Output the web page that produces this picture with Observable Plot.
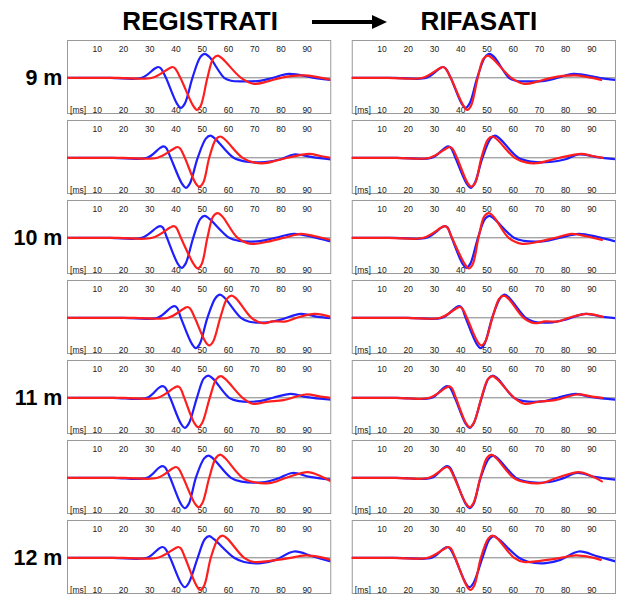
<!DOCTYPE html>
<html>
<head>
<meta charset="utf-8">
<script src="https://cdn.jsdelivr.net/npm/d3@7"></script>
<script src="https://cdn.jsdelivr.net/npm/@observablehq/plot@0.6"></script>
<style>
  html, body { margin: 0; padding: 0; background: #fff; }
  #wrap { position: relative; width: 617px; height: 594px; font-family: "Liberation Sans", Arial, sans-serif; }
  #arrow-shaft { position: absolute; left: 312px; top: 20px; width: 62px; height: 4px; background: #000; }
  #arrow-head { position: absolute; left: 372px; top: 15px; width: 0; height: 0;
    border-left: 15px solid #000; border-top: 7px solid transparent; border-bottom: 7px solid transparent; }
</style>
</head>
<body>
<div id="wrap">
  <div id="chart"></div>
  <div id="arrow-shaft"></div>
  <div id="arrow-head"></div>
</div>
<script>
// ---- data (time in ms, amplitude normalised) ----
const columns = ["REGISTRATI", "RIFASATI"];
const rowLabels = ["9 m", "", "10 m", "", "11 m", "", "12 m"];
const tickValues = [10, 20, 30, 40, 50, 60, 70, 80, 90];
// lag (ms) removed from the red trace in the "RIFASATI" column
const shiftRifasati = [5.5, 4.8, 5.2, 4.8, 5.0, 5.2, 5.6];

const blue0 = [[-1.3,0],[15,0],[27,0],[32,0.31],[33.3,0.36],[34.3,0.31],[36.2,0],[40.4,-0.86],[41.9,-1.0],[43.4,-0.86],[46.3,0],[49.3,0.69],[51,0.8],[52.8,0.69],[58.4,0],[61,-0.1],[66,-0.12],[72,-0.1],[77,0],[83,0.13],[92.7,0],[99,-0.07]];
const red0  = [[-1.3,0],[18,0],[31,0],[37.4,0.31],[38.7,0.36],[39.7,0.31],[41.7,0],[46.5,-0.92],[48,-1.07],[49.5,-0.92],[52,0],[54.2,0.64],[55.9,0.74],[57.7,0.64],[64.8,0],[69.8,-0.2],[75,-0.12],[80,0],[88.9,0.08],[94,0.02],[99,-0.07]];
const blue1 = [[-1.3,0],[16,0],[29,0],[34,0.33],[35.3,0.38],[36.3,0.33],[38,0],[42.3,-0.86],[43.8,-1.0],[45.3,-0.86],[48.3,0],[51.4,0.64],[53.1,0.74],[54.9,0.64],[62,0],[67,-0.13],[74,-0.14],[80,-0.05],[85,0.11],[92,0.02],[99,-0.05]];
const red1  = [[-1.3,0],[20,0],[33,0],[39.3,0.31],[40.6,0.36],[41.6,0.31],[43.4,0],[47.4,-0.83],[48.9,-0.96],[50.4,-0.83],[52.7,0],[55.2,0.61],[56.9,0.71],[58.7,0.61],[65.4,0],[70,-0.16],[73.7,-0.18],[78,-0.1],[82.5,0],[90.8,0.13],[95,0.06],[99,0]];
const blue2 = [[-1.3,0],[15,0],[27,0],[32.7,0.34],[34,0.39],[35,0.34],[36.6,0],[40.7,-0.86],[42.2,-1.0],[43.7,-0.86],[46.6,0],[49.3,0.63],[51,0.73],[52.8,0.63],[60.3,0],[64,-0.1],[72,-0.11],[78,0],[85,0.13],[92,0.03],[98.5,-0.11]];
const red2  = [[-1.3,0],[18,0],[31,0],[37.8,0.34],[39.1,0.39],[40.1,0.34],[41.9,0],[46.8,-0.88],[48.3,-1.02],[49.8,-0.88],[52,0],[54.2,0.71],[55.9,0.82],[57.7,0.71],[63.5,0],[68.6,-0.2],[75,-0.13],[81.3,0],[87.6,0.13],[93,0.05],[99,-0.07]];
const blue3 = [[-1.3,0],[20,0],[33,0],[38.1,0.34],[39.4,0.39],[40.4,0.34],[41.9,0],[46.1,-0.87],[47.6,-1.01],[49.1,-0.87],[52,0],[55.1,0.66],[56.8,0.77],[58.6,0.66],[64.8,0],[68,-0.13],[75,-0.15],[80,-0.06],[87.6,0.13],[94,0.03],[99,-0.01]];
const red3  = [[-1.3,0],[24,0],[37,0],[43.1,0.31],[44.4,0.36],[45.4,0.31],[47.2,0],[51.2,-0.79],[52.7,-0.92],[54.2,-0.79],[56.9,0],[59.5,0.64],[61.2,0.74],[63,0.64],[68.8,0],[73,-0.18],[77,-0.12],[82,-0.12],[86,0],[93,0.13],[99,0.03]];
const blue4 = [[-1.3,0],[16,0],[29,0],[33.6,0.34],[34.9,0.39],[35.9,0.34],[37.8,0],[41.9,-0.86],[43.4,-1.0],[44.9,-0.86],[48,0],[50.6,0.64],[52.3,0.74],[54.1,0.64],[60.3,0],[64,-0.11],[72,-0.11],[77,0],[83.8,0.13],[90,0.02],[99,-0.06]];
const red4  = [[-1.3,0],[20,0],[33,0],[39.3,0.33],[40.6,0.38],[41.6,0.33],[43.2,0],[47,-0.84],[48.5,-0.98],[50,-0.84],[52.9,0],[55.4,0.62],[57.1,0.72],[58.9,0.62],[65.4,0],[69.2,-0.2],[75,-0.13],[81,-0.08],[89.5,0.11],[95,0.04],[99,0]];
const blue5 = [[-1.3,0],[16,0],[29,0],[33.6,0.34],[34.9,0.39],[35.9,0.34],[37.8,0],[41.9,-0.87],[43.4,-1.01],[44.9,-0.87],[47.6,0],[50.7,0.64],[52.4,0.74],[54.2,0.64],[61,0],[65,-0.13],[74,-0.14],[79,-0.02],[84.4,0.16],[91,0.03],[99,-0.06]];
const red5  = [[-1.3,0],[20,0],[33,0],[38.7,0.31],[40,0.36],[41,0.31],[42.8,0],[47.1,-0.84],[48.6,-0.98],[50.1,-0.84],[52.7,0],[55.2,0.66],[56.9,0.77],[58.7,0.66],[65.4,0],[70,-0.15],[75.6,-0.18],[82,0],[90.2,0.19],[95,0.06],[99,-0.12]];
const blue6 = [[-1.3,0],[16,0],[29,0],[33.6,0.31],[34.9,0.36],[35.9,0.31],[37.8,0],[41.9,-0.84],[43.4,-0.98],[44.9,-0.84],[48.3,0],[51,0.62],[52.7,0.72],[54.5,0.62],[62.2,0],[66,-0.14],[72.4,-0.18],[78,-0.07],[85,0.21],[92,0.05],[99,-0.12]];
const red6  = [[-1.3,0],[20,0],[33,0],[39.6,0.31],[40.9,0.36],[41.9,0.31],[43.5,0],[47.8,-0.92],[49.3,-1.07],[50.8,-0.92],[53.3,0],[56.1,0.64],[57.8,0.74],[59.6,0.64],[66,0],[69.8,-0.14],[76,-0.1],[82,-0.03],[89.5,0.08],[95,0.02],[99,-0.07]];

const blueTraces = [blue0, blue1, blue2, blue3, blue4, blue5, blue6];
const redTraces  = [red0, red1, red2, red3, red4, red5, red6];

// ---- build tables ----
const blueRows = [], redRows = [];
for (let r = 0; r < 7; r++) {
  for (const col of columns) {
    for (const [t, a] of blueTraces[r]) blueRows.push({row: r, col, t, a});
    const lag = col === "RIFASATI" ? shiftRifasati[r] : 0;
    for (const [t, a] of redTraces[r]) redRows.push({row: r, col, t: t - lag, a});
  }
}
const labelRows = rowLabels.map((label, row) => ({row, label})).filter(d => d.label);

const tickFont = 8.5;
const tickFill = "#222";
const chart = Plot.plot({
  width: 617,
  height: 594,
  marginTop: 40,
  marginBottom: 1,
  marginLeft: 67,
  marginRight: 2,
  style: {fontFamily: "'Liberation Sans', Arial, sans-serif", background: "white", overflow: "visible"},
  fx: {domain: columns, axis: null, paddingInner: 0.0755, paddingOuter: 0, round: false},
  fy: {domain: d3.range(7), axis: null, paddingInner: 0.0875, paddingOuter: 0, round: false},
  x: {domain: [-1.3, 99], axis: null},
  y: {domain: [-1.19, 1.243], axis: null},
  marks: [
    Plot.frame({stroke: "#9a9a9a", strokeWidth: 1}),
    Plot.ruleY([0], {stroke: "#808080", strokeWidth: 1}),
    Plot.text(tickValues, {x: d => d, text: d => String(d), frameAnchor: "top", lineAnchor: "middle", dy: 8.5, fontSize: tickFont, fill: tickFill}),
    Plot.text(tickValues, {x: d => d, text: d => String(d), frameAnchor: "bottom", lineAnchor: "middle", dy: -3, fontSize: tickFont, fill: tickFill}),
    Plot.text(["[ms]"], {x: () => -0.3, text: d => d, frameAnchor: "bottom", lineAnchor: "middle", dy: -3, textAnchor: "start", fontSize: tickFont, fill: tickFill}),
    Plot.line(blueRows, {fx: "col", fy: "row", x: "t", y: "a", z: "col", stroke: "#1e1eff", strokeWidth: 2.2, curve: "catmull-rom", clip: true}),
    Plot.line(redRows, {fx: "col", fy: "row", x: "t", y: "a", z: "col", stroke: "#ff1e1e", strokeWidth: 2.2, curve: "catmull-rom", clip: true}),
    Plot.text([columns[0]], {fx: d => d, fy: () => 0, frameAnchor: "top", lineAnchor: "middle", dy: -19, dx: 1, text: d => d, fontSize: 26, fontWeight: "bold", fill: "#000"}),
    Plot.text([columns[1]], {fx: d => d, fy: () => 0, frameAnchor: "top", lineAnchor: "middle", dy: -19, dx: -5, text: d => d, fontSize: 26, fontWeight: "bold", fill: "#000"}),
    Plot.text(labelRows, {fx: () => "REGISTRATI", fy: "row", y: () => 0, frameAnchor: "left", dx: -5, textAnchor: "end", text: "label", fontSize: 21.5, fontWeight: "bold", fill: "#000"})
  ]
});
document.getElementById("chart").appendChild(chart);
</script>
</body>
</html>
